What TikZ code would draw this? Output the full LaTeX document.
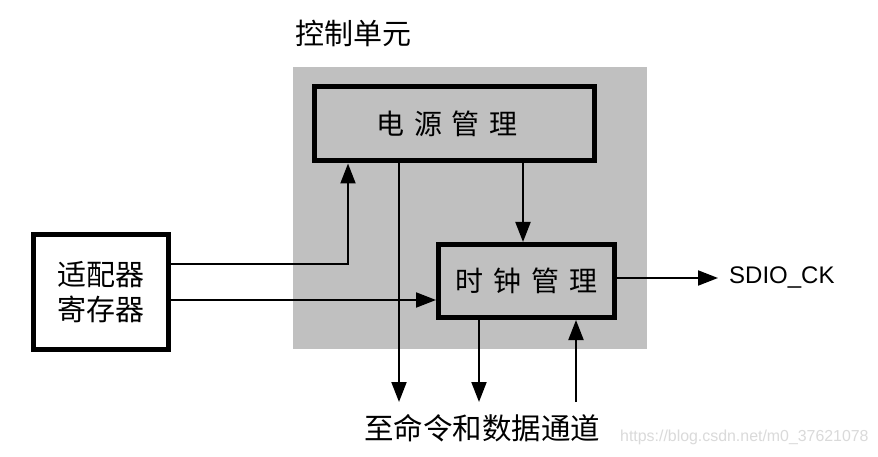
\documentclass[tikz,border=0pt]{standalone}
\usepackage{fontspec}
\setmainfont{Liberation Sans}
\newfontfamily\cjk{Noto Sans CJK SC}
\usetikzlibrary{arrows.meta}
\definecolor{unitgrey}{HTML}{C0C0C0}
\definecolor{wmgrey}{HTML}{DADADA}
\tikzset{
  blockbox/.style={draw=black, line width=5pt, inner sep=0pt},
  conn/.style={line width=2pt, -{Triangle[length=20pt,width=15pt]}},
  cjklabel/.style={inner sep=0pt, font=\cjk\fontsize{#1}{#1}\selectfont},
}
\newcommand{\chgap}{\hspace{10pt}}
\begin{document}
\begin{tikzpicture}[x=1pt,y=-1pt]
\useasboundingbox (0,0) rectangle (878,457);
\fill[white] (0,0) rectangle (878,457);
% control unit background
\fill[unitgrey] (293,67) rectangle (647,349);
\node[cjklabel=29, anchor=center] (title) at (353,33) {控制单元};
% blocks
\node[blockbox, minimum width=280pt, minimum height=74pt, font=\cjk\fontsize{28}{28}\selectfont] (pwr) at (454,124) {电\chgap 源\chgap 管\chgap 理\hspace*{14pt}};
\node[blockbox, minimum width=176pt, minimum height=73pt, font=\cjk\fontsize{28}{28}\selectfont] (clk) at (526.5,281) {时\chgap 钟\chgap 管\chgap 理};
\node[blockbox, fill=white, minimum width=135pt, minimum height=115pt, align=center, font=\cjk\fontsize{29}{35}\selectfont] (adp) at (101,292) {适配器\\寄存器};
% texts
\node[cjklabel=29.5] (bus) at (482,428) {至命令和数据通道};
\node[anchor=west, inner sep=0pt, font=\fontsize{24}{24}\selectfont] (sd) at (729,278) {SDIO\_CK};
\node[anchor=west, inner sep=0pt, text=wmgrey, font=\fontsize{15.9}{16}\selectfont] (wm) at (620,437) {https://blog.csdn.net/m0\_37621078};
% helper coordinates
\coordinate (yA) at (0,264);
\coordinate (yB) at (0,300);
\coordinate (yS) at (0,278);
\coordinate (yBot) at (0,402);
\coordinate (xA) at (348,0);
\coordinate (xB) at (399,0);
\coordinate (xC) at (523,0);
\coordinate (xD) at (479,0);
\coordinate (xE) at (576,0);
\coordinate (xS) at (718,0);
% connectors
\draw[conn] (adp.east |- yA) -| (xA |- pwr.south);
\draw[conn] (adp.east |- yB) -- (clk.west |- yB);
\draw[conn] (xB |- pwr.south) -- (xB |- yBot);
\draw[conn] (xC |- pwr.south) -- (xC |- clk.north);
\draw[conn] (xD |- clk.south) -- (xD |- yBot);
\draw[conn] (xE |- yBot) -- (xE |- clk.south);
\draw[conn] (clk.east |- yS) -- (xS |- yS);
\end{tikzpicture}
\end{document}
